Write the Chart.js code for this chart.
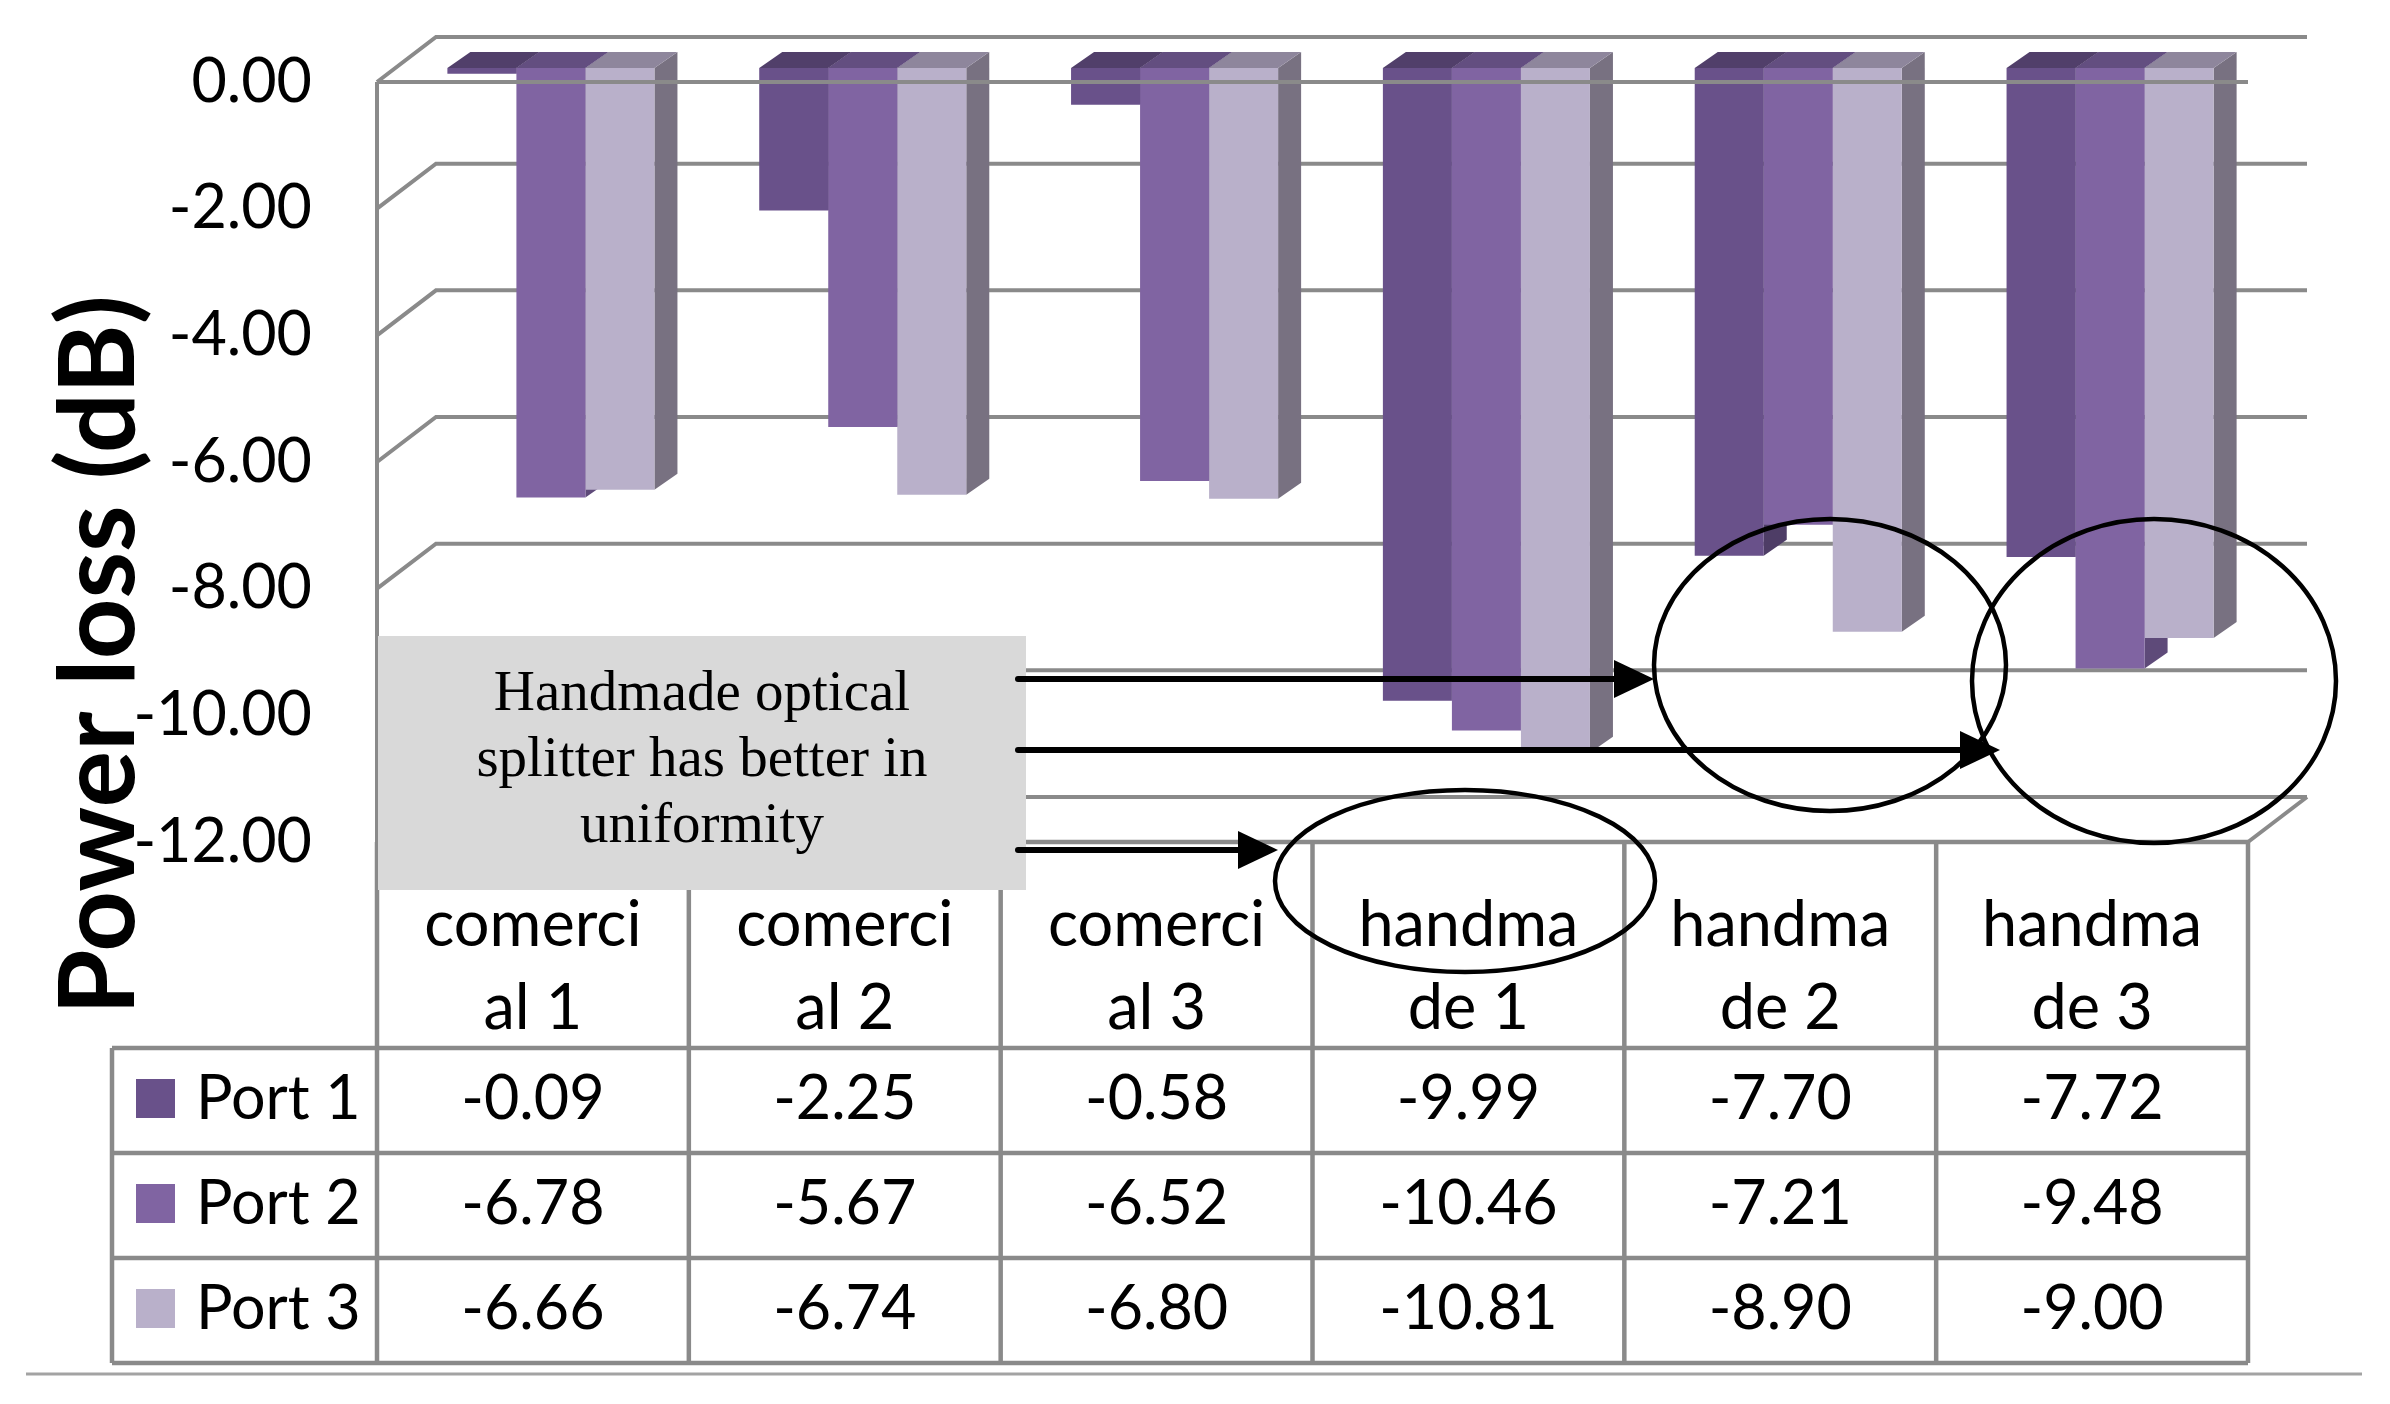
<!DOCTYPE html>
<html>
<head>
<meta charset="utf-8">
<script src="https://cdn.jsdelivr.net/npm/chart.js@4.4.1/dist/chart.umd.min.js"></script>
<style>
  html, body { margin: 0; padding: 0; background: #fff; }
  #wrap { width: 2390px; height: 1404px; position: relative; }
</style>
</head>
<body>
<div id="wrap"><canvas id="chart"></canvas></div>
<script>
// data
const categories = [['comerci', 'al 1'], ['comerci', 'al 2'], ['comerci', 'al 3'],
                    ['handma', 'de 1'], ['handma', 'de 2'], ['handma', 'de 3']];
const seriesNames = ['Port 1', 'Port 2', 'Port 3'];
const port1 = [-0.09, -2.25, -0.58, -9.99, -7.70, -7.72];
const port2 = [-6.78, -5.67, -6.52, -10.46, -7.21, -9.48];
const port3 = [-6.66, -6.74, -6.80, -10.81, -8.90, -9.00];
const yTicks = [0, -2, -4, -6, -8, -10, -12];
const yTitle = 'Power loss (dB)';
const noteLines = ['Handmade optical', 'splitter has better in', 'uniformity'];

// colours: front face, top face, side face
const frontColors = ['#69518a', '#8064a2', '#b9b0ca'];
const topColors = ['#513f6a', '#634e80', '#8e869c'];
const sideColors = ['#4e3d66', '#5e4a79', '#787181'];
const GRID = '#8a8a8a';

// 3d geometry (px)
const SHIFT_DX = 18, SHIFT_DY = 14;   // bar plane -> front plane
const DEPTH_DX = 59, DEPTH_DY = 45;   // front plane -> back wall
const BAR_DX = 23, BAR_DY = 16;       // depth of a single column

const FONT = 'Lato, "Open Sans", sans-serif';

function frontY(chart, v) {
    return chart.scales.y.getPixelForValue(v) + SHIFT_DY;
}

const frame3d = {
    id: 'frame3d',
    beforeDatasetsDraw(chart) {
        const { ctx, chartArea: a } = chart;
        const xf0 = a.left - SHIFT_DX, xf1 = a.right - SHIFT_DX;
        ctx.save();
        ctx.strokeStyle = GRID;
        ctx.lineWidth = 4;
        // side wall + back wall gridlines
        yTicks.forEach((v) => {
            const yf = frontY(chart, v);
            ctx.beginPath();
            ctx.moveTo(xf0, yf);
            ctx.lineTo(xf0 + DEPTH_DX, yf - DEPTH_DY);
            ctx.lineTo(xf1 + DEPTH_DX, yf - DEPTH_DY);
            ctx.stroke();
        });
        // front vertical axis
        ctx.beginPath();
        ctx.moveTo(xf0, frontY(chart, 0));
        ctx.lineTo(xf0, frontY(chart, -12));
        ctx.stroke();
        // floor right edge
        const yfl = frontY(chart, -12);
        ctx.beginPath();
        ctx.moveTo(xf1, yfl);
        ctx.lineTo(xf1 + DEPTH_DX, yfl - DEPTH_DY);
        ctx.stroke();

        // column side and top faces, painted left to right
        for (let i = 0; i < categories.length; i++) {
            for (let d = 0; d < 3; d++) {
                const el = chart.getDatasetMeta(d).data[i];
                const p = el.getProps(['x', 'y', 'base', 'width'], true);
                const l = p.x - p.width / 2, r = p.x + p.width / 2;
                const top = Math.min(p.y, p.base), bot = Math.max(p.y, p.base);
                ctx.fillStyle = sideColors[d];
                ctx.beginPath();
                ctx.moveTo(r, top);
                ctx.lineTo(r + BAR_DX, top - BAR_DY);
                ctx.lineTo(r + BAR_DX, bot - BAR_DY);
                ctx.lineTo(r, bot);
                ctx.closePath();
                ctx.fill();
                ctx.fillStyle = topColors[d];
                ctx.beginPath();
                ctx.moveTo(l, top);
                ctx.lineTo(r, top);
                ctx.lineTo(r + BAR_DX, top - BAR_DY);
                ctx.lineTo(l + BAR_DX, top - BAR_DY);
                ctx.closePath();
                ctx.fill();
            }
        }
        ctx.restore();
    },
    afterDatasetsDraw(chart) {
        const { ctx, chartArea: a } = chart;
        const y0 = frontY(chart, 0);
        ctx.save();
        ctx.strokeStyle = GRID;
        ctx.lineWidth = 4;
        ctx.beginPath();
        ctx.moveTo(a.left - SHIFT_DX, y0);
        ctx.lineTo(a.right - SHIFT_DX, y0);
        ctx.stroke();
        ctx.restore();
    },
    afterDraw(chart) {
        const { ctx, chartArea: a, scales: { x } } = chart;
        const xf0 = a.left - SHIFT_DX, xf1 = a.right - SHIFT_DX;
        const colW = (a.right - a.left) / categories.length;
        const tTop = frontY(chart, -12);
        const hdrBot = tTop + 206;
        const rowH = 105;
        const tBot = hdrBot + rowH * 3;
        const legL = 112;
        const allSeries = [port1, port2, port3];

        ctx.save();
        // data table grid
        ctx.strokeStyle = GRID;
        ctx.lineWidth = 4.5;
        ctx.beginPath();
        ctx.moveTo(xf0, tTop); ctx.lineTo(xf1, tTop);
        for (let r = 0; r <= 3; r++) {
            ctx.moveTo(legL, hdrBot + r * rowH);
            ctx.lineTo(xf1, hdrBot + r * rowH);
        }
        for (let k = 0; k <= categories.length; k++) {
            const xx = xf0 + k * colW;
            ctx.moveTo(xx, tTop); ctx.lineTo(xx, tBot);
        }
        ctx.moveTo(legL, hdrBot); ctx.lineTo(legL, tBot);
        ctx.stroke();

        // bottom rule
        ctx.strokeStyle = '#a3a3a3';
        ctx.lineWidth = 3;
        ctx.beginPath();
        ctx.moveTo(26, tBot + 11); ctx.lineTo(2362, tBot + 11);
        ctx.stroke();

        // header labels
        ctx.fillStyle = '#000';
        ctx.font = '63px ' + FONT;
        ctx.textAlign = 'center';
        ctx.textBaseline = 'alphabetic';
        categories.forEach((lines, i) => {
            const cx = x.getPixelForValue(i) - SHIFT_DX;
            lines.forEach((t, j) => ctx.fillText(t, cx, tTop + 104 + j * 83));
        });
        // values + legend keys
        ctx.font = '61px ' + FONT;
        allSeries.forEach((vals, d) => {
            const base = hdrBot + d * rowH + 71;
            ctx.fillStyle = frontColors[d];
            ctx.fillRect(136, base - 40, 39, 39);
            ctx.fillStyle = '#000';
            ctx.textAlign = 'left';
            ctx.fillText(seriesNames[d], 196, base);
            ctx.textAlign = 'center';
            vals.forEach((v, i) => {
                ctx.fillText(v.toFixed(2), x.getPixelForValue(i) - SHIFT_DX, base);
            });
        });

        // y axis title
        ctx.save();
        ctx.translate(100, 655);
        ctx.rotate(-Math.PI / 2);
        ctx.font = 'bold 106px ' + FONT;
        ctx.textAlign = 'center';
        ctx.textBaseline = 'middle';
        ctx.fillText(yTitle, 0, 0);
        ctx.restore();

        // annotation box
        ctx.fillStyle = '#d9d9d9';
        ctx.fillRect(378, 636, 648, 254);
        ctx.fillStyle = '#000';
        ctx.font = '57px "Liberation Serif", "Times New Roman", serif';
        ctx.textAlign = 'center';
        noteLines.forEach((t, j) => ctx.fillText(t, 702, 710 + j * 66));

        // arrows
        const arrow = (x1, yy, x2) => {
            ctx.strokeStyle = '#000';
            ctx.lineWidth = 6;
            ctx.lineCap = 'round';
            ctx.beginPath();
            ctx.moveTo(x1, yy); ctx.lineTo(x2 - 30, yy);
            ctx.stroke();
            ctx.fillStyle = '#000';
            ctx.beginPath();
            ctx.moveTo(x2, yy);
            ctx.lineTo(x2 - 40, yy - 19);
            ctx.lineTo(x2 - 40, yy + 19);
            ctx.closePath();
            ctx.fill();
        };
        arrow(1018, 679, 1654);
        arrow(1018, 750, 2000);
        arrow(1018, 850, 1278);

        // ellipses
        ctx.strokeStyle = '#000';
        ctx.lineWidth = 4.5;
        [[1465, 881, 190, 91], [1830, 665, 176, 146], [2154, 681, 182, 162]].forEach(([cx, cy, rx, ry]) => {
            ctx.beginPath();
            ctx.ellipse(cx, cy, rx, ry, 0, 0, Math.PI * 2);
            ctx.stroke();
        });
        ctx.restore();
    }
};

new Chart(document.getElementById('chart'), {
    type: 'bar',
    data: {
        labels: categories,
        datasets: [port1, port2, port3].map((vals, d) => ({
            label: seriesNames[d],
            data: vals,
            backgroundColor: frontColors[d],
            borderWidth: 0,
            barPercentage: 1,
            categoryPercentage: 0.664,
        })),
    },
    options: {
        responsive: true,
        maintainAspectRatio: false,
        animation: false,
        layout: { padding: { top: 68, right: 124, bottom: 576, left: 0 } },
        plugins: {
            legend: { display: false },
            tooltip: { enabled: false },
        },
        scales: {
            x: { display: false },
            y: {
                min: -12,
                max: 0,
                afterBuildTicks: (scale) => { scale.ticks = yTicks.map((v) => ({ value: v })); },
                afterFit: (scale) => {
                    scale.width = 395;
                    scale.paddingTop = 0;
                    scale.paddingBottom = 0;
                },
                grid: { display: false, drawTicks: false },
                border: { display: false },
                ticks: {
                    padding: 83,
                    labelOffset: 14,
                    color: '#000',
                    font: { family: 'Lato', size: 61 },
                    callback: (v) => Number(v).toFixed(2),
                },
            },
        },
    },
    plugins: [frame3d],
});
</script>
</body>
</html>
